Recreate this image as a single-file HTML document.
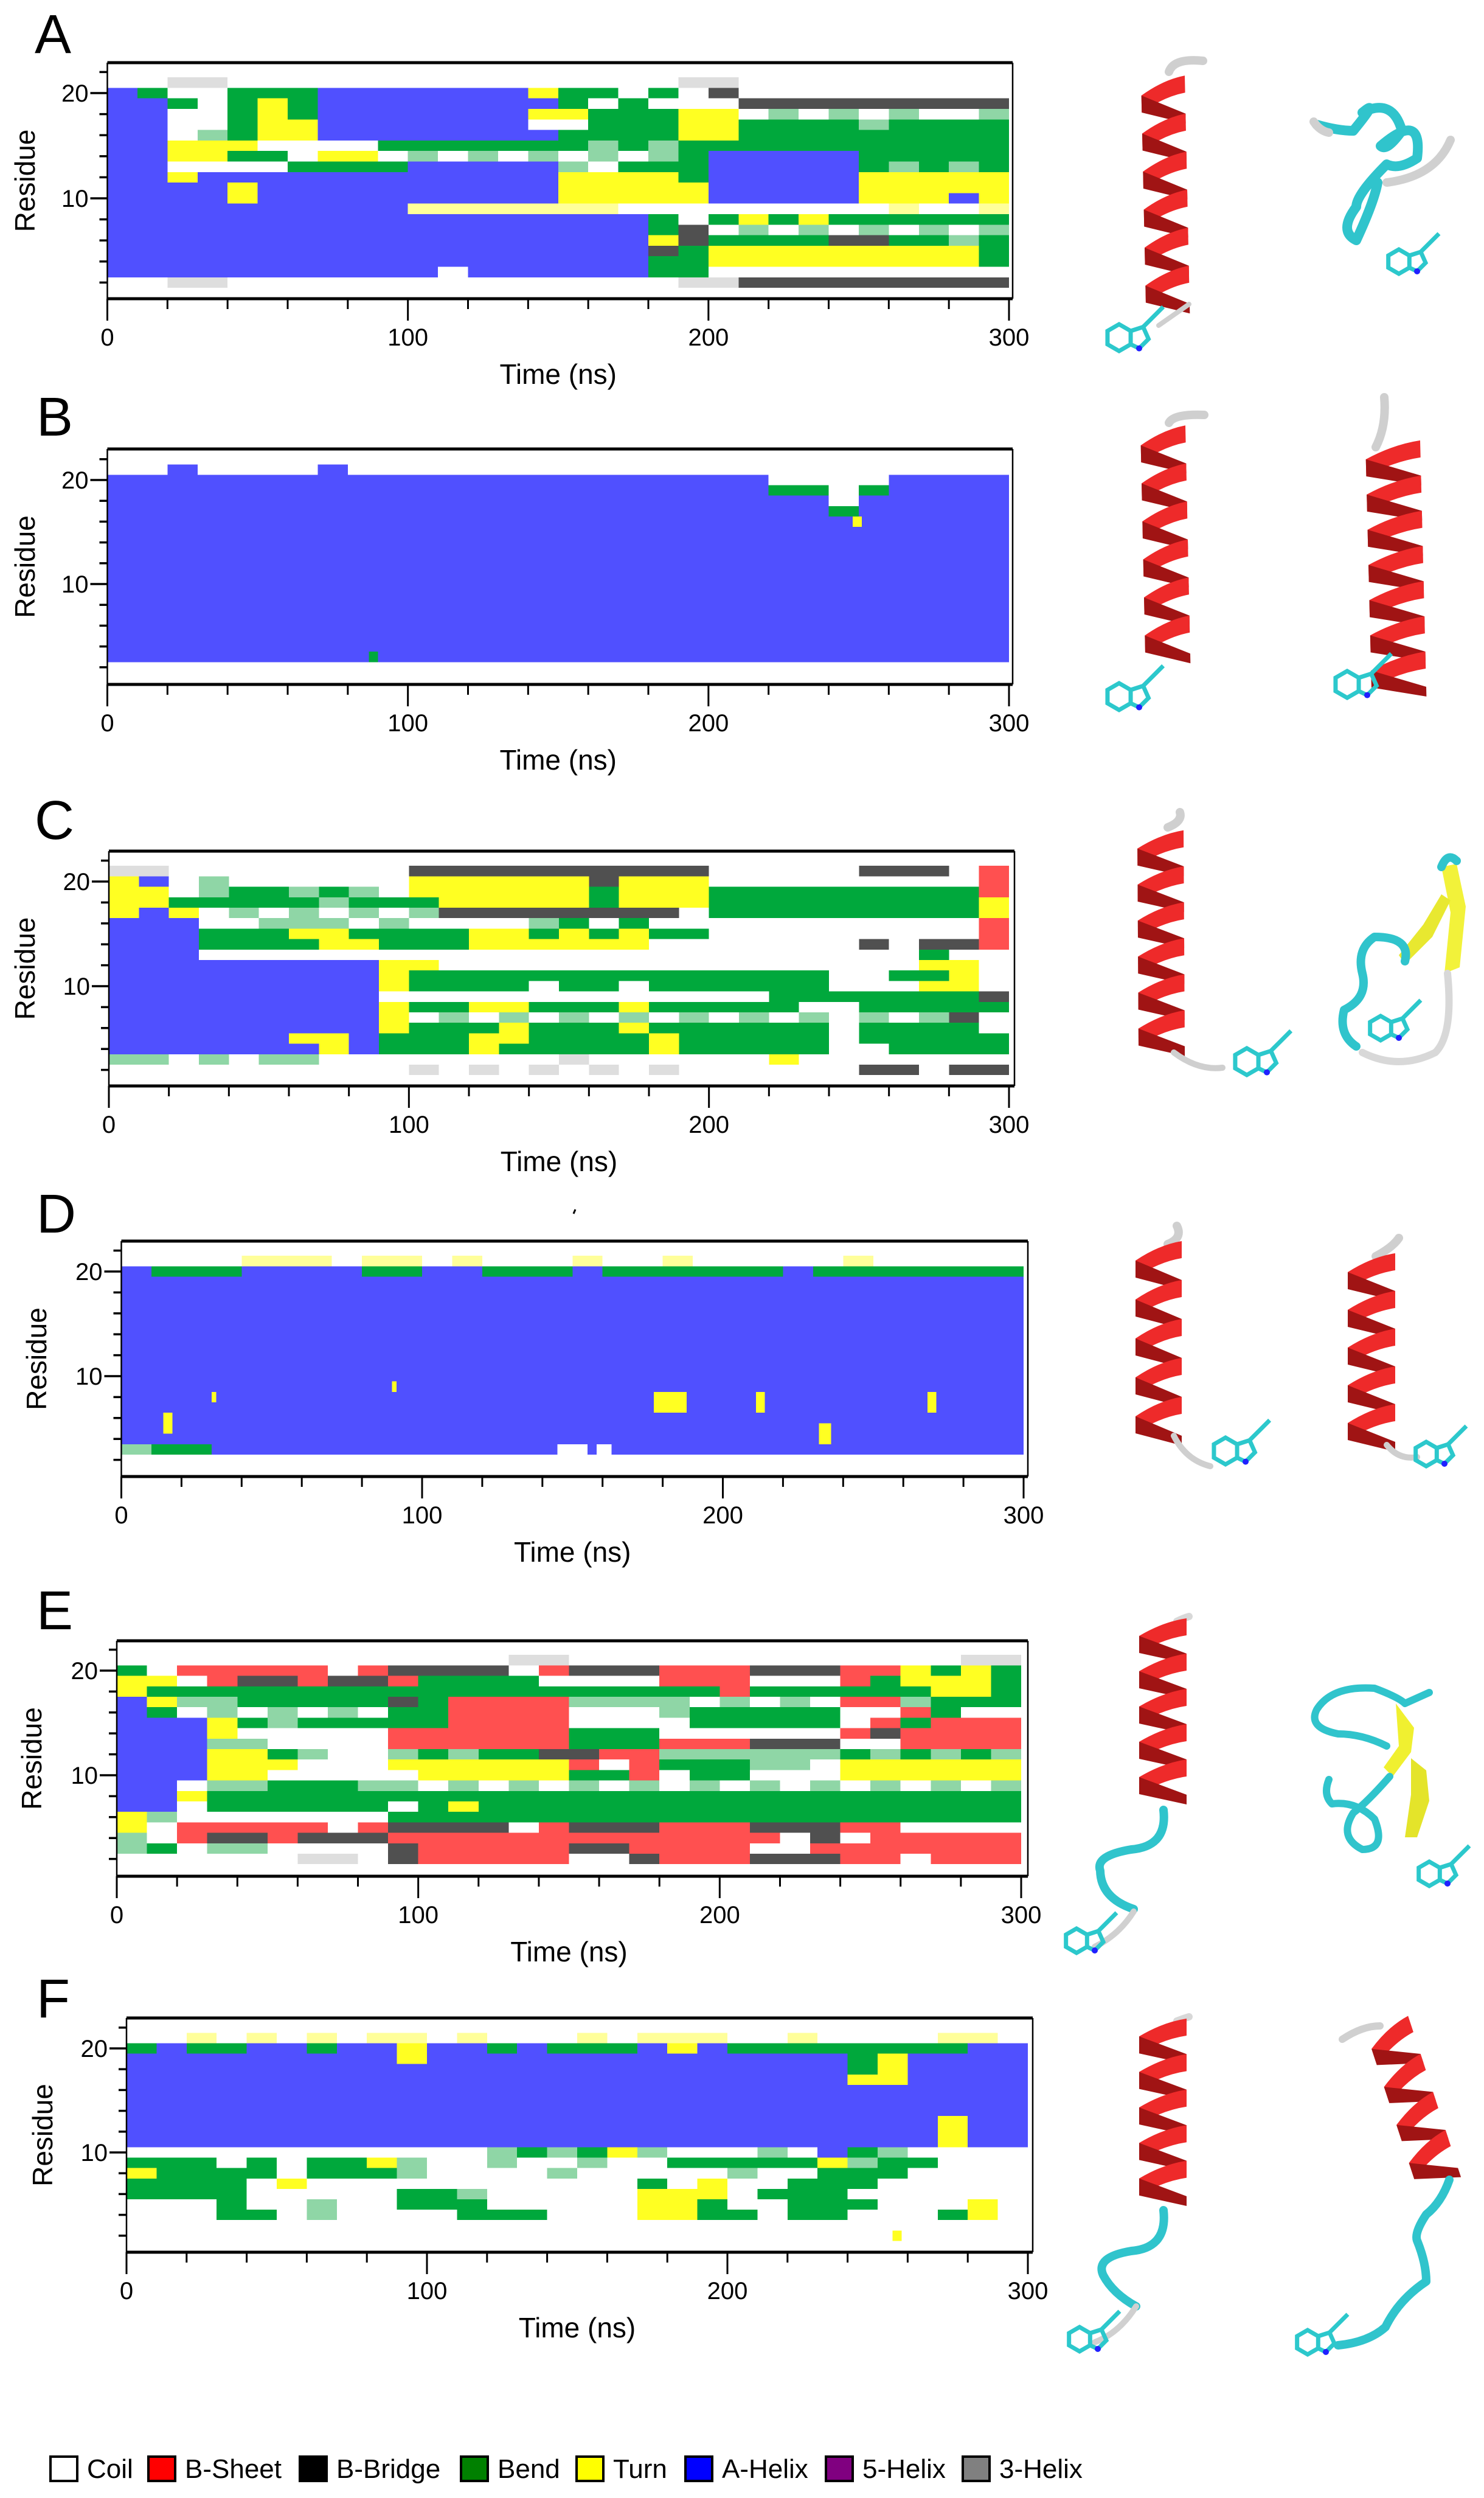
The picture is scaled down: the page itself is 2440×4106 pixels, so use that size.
<!DOCTYPE html>
<html><head><meta charset="utf-8"><title>DSSP secondary structure timelines</title>
<style>
html,body{margin:0;padding:0;background:#fff;}
svg{display:block;font-family:"Liberation Sans",sans-serif;}
</style></head>
<body>
<svg id="fig" xmlns="http://www.w3.org/2000/svg" width="2440" height="4106" viewBox="0 0 2440 4106">
<rect x="0" y="0" width="2440" height="4106" fill="#fff"/>
<g id="plots"></g>
<g id="mols"></g>
<g id="legend"></g>
</svg>
<script>
// ---------------- DATA ----------------
const residues = [21,20,19,18,17,16,15,14,13,12,11,10,9,8,7,6,5,4,3,2];
const binWidthNs = 10;
const timeMajorTicks = [0,100,200,300];
const timeMinorTicks = [20,40,60,80,120,140,160,180,220,240,260,280];
const residueTicks = [2,4,6,8,12,14,16,18,22];
const residueLabelTicks = [10,20];
const stateCodes = ['.','E','B','S','T','H','I','G','g','y','k'];
const stateColors = ['none','#ff5050','#000000','#00a83c','#ffff22','#5050ff','#900090','#505050','#8fd6a6','#ffff9a','#dedede'];
const legendLabels = ['Coil','B-Sheet','B-Bridge','Bend','Turn','A-Helix','5-Helix','3-Helix'];
const legendColors = ['#ffffff','#ff0000','#000000','#008000','#ffff00','#0000ff','#800080','#808080'];

const rowsA = [
"..kk...............kk.........",
"HS..SSSHHHHHHHTSS.S.G.........",
"HHS.STSHHHHHHHHS.S...GGGGGGGGG",
"HH..STSHHHHHHHTTSSSTT.g.g.g..g",
"HH..STTHHHHHHH..SSSTTSSSSgSSSS",
"HH.gSTTHHHHHHHHSSSSTTSSSSSSSSS",
"HHTTT....SSSSSSSgSgSSSSSSSSSSS",
"HHTTSS.TT.g.g.g.g.gSHHHHHSSSSS",
"HH....SSSSHHHHHg.SSSHHHHHSgSgS",
"HHTHHHHHHHHHHHHTTTTSHHHHHTTTTT",
"HHHHTHHHHHHHHHHTTTTTHHHHHTTTTT",
"HHHHTHHHHHHHHHHTTTTTHHHHHTTTHT",
"HHHHHHHHHHyyyyyyy.........y..y",
"HHHHHHHHHHHHHHHHHHS.STSTSSSSSS",
"HHHHHHHHHHHHHHHHHHSG.g.g.g.g.g",
"HHHHHHHHHHHHHHHHHHTGSSSSGGSSgS",
"HHHHHHHHHHHHHHHHHHGSTTTTTTTTTS",
"HHHHHHHHHHHHHHHHHHSSTTTTTTTTTS",
"HHHHHHHHHHH.HHHHHHSS..........",
"..kk...............kkGGGGGGGGG"];
const rowsB = [
"..H....H......................",
"HHHHHHHHHHHHHHHHHHHHHH....HHHH",
"HHHHHHHHHHHHHHHHHHHHHHSS.SHHHH",
"HHHHHHHHHHHHHHHHHHHHHHHH.HHHHH",
"HHHHHHHHHHHHHHHHHHHHHHHHSHHHHH",
"HHHHHHHHHHHHHHHHHHHHHHHHHHHHHH",
"HHHHHHHHHHHHHHHHHHHHHHHHHHHHHH",
"HHHHHHHHHHHHHHHHHHHHHHHHHHHHHH",
"HHHHHHHHHHHHHHHHHHHHHHHHHHHHHH",
"HHHHHHHHHHHHHHHHHHHHHHHHHHHHHH",
"HHHHHHHHHHHHHHHHHHHHHHHHHHHHHH",
"HHHHHHHHHHHHHHHHHHHHHHHHHHHHHH",
"HHHHHHHHHHHHHHHHHHHHHHHHHHHHHH",
"HHHHHHHHHHHHHHHHHHHHHHHHHHHHHH",
"HHHHHHHHHHHHHHHHHHHHHHHHHHHHHH",
"HHHHHHHHHHHHHHHHHHHHHHHHHHHHHH",
"HHHHHHHHHHHHHHHHHHHHHHHHHHHHHH",
"HHHHHHHHHHHHHHHHHHHHHHHHHHHHHH",
"HHHHHHHHHHHHHHHHHHHHHHHHHHHHHH",
".............................."];
const rowsC = [
"kk........GGGGGGGGGG.....GGG.E",
"TH.g......TTTTTTGTTT.........E",
"TT.gSSgSg.TTTTTTSTTTSSSSSSSSSE",
"TTSSSSSgSSSTTTTTSTTTSSSSSSSSST",
"THT.g.g.g.gGGGGGGGG.SSSSSSSSST",
"HHH..ggg.g....gS.S...........E",
"HHHSSSTTSSSSTTSTSTSS.........E",
"HHHSSSSTTSSSTTTTTT.......G.GGE",
"HHH........................S..",
"HHHHHHHHHTT................TT.",
"HHHHHHHHHTSSSSSSSSSSSSSS..SST.",
"HHHHHHHHHTSSSS.SS.SSSSSS...TT.",
"HHHHHHHHH.............SSSSSSSG",
"HHHHHHHHHTSSTTSSSTSSSSS..SSSSS",
"HHHHHHHHHT.g.g.g.g.g.g.g.g.gG.",
"HHHHHHHHHTSSSTSSSTSSSSSS.SSSS.",
"HHHHHHTTHSSSTTSSSSTSSSSS.SSSSS",
"HHHHHHHTHSSSTSSSSSTSSSSS..SSSS",
"gg.g.gg........k......T.......",
"..........k.k.k.k.k......GG.GG"];
const rowsD = [
"....yyy.yy.y...y..y.....y.....",
"HSSSHHHHSSHHSSSHSSSSSSHSSSSSSS",
"HHHHHHHHHHHHHHHHHHHHHHHHHHHHHH",
"HHHHHHHHHHHHHHHHHHHHHHHHHHHHHH",
"HHHHHHHHHHHHHHHHHHHHHHHHHHHHHH",
"HHHHHHHHHHHHHHHHHHHHHHHHHHHHHH",
"HHHHHHHHHHHHHHHHHHHHHHHHHHHHHH",
"HHHHHHHHHHHHHHHHHHHHHHHHHHHHHH",
"HHHHHHHHHHHHHHHHHHHHHHHHHHHHHH",
"HHHHHHHHHHHHHHHHHHHHHHHHHHHHHH",
"HHHHHHHHHHHHHHHHHHHHHHHHHHHHHH",
"HHHHHHHHHHHHHHHHHHHHHHHHHHHHHH",
"HHHHHHHHHHHHHHHHHHHHHHHHHHHHHH",
"HHHHHHHHHHHHHHHHHHHHHHHHHHHHHH",
"HHHHHHHHHHHHHHHHHHHHHHHHHHHHHH",
"HHHHHHHHHHHHHHHHHHHHHHHHHHHHHH",
"HHHHHHHHHHHHHHHHHHHHHHHHHHHHHH",
"HHHHHHHHHHHHHHHHHHHHHHHHHHHHHH",
"gSSHHHHHHHHHHHHHHHHHHHHHHHHHHH",
".............................."];
const rowsE = [
".............kk.............kk",
"S.EEEEE.EGGGG.EGGGEEEGGGEETSTS",
"TT.EGGEGGESSSS....EEE...ESTTTS",
"TSSSSSSSSSSSSSSSSSSSESSSSSSTTS",
"HTggSSSSSGSEEEEgggg.g.g.EEgSSS",
"HS.g.g.g.SSEEEE...gSSSSS..ES..",
"HHHTSgSSSSSEEEE....SSSSS.ESEEE",
"HHHT.....EEEEEESSS......EGEEEE",
"HHHgg....EEEEEESSSEEEGGG..EEEE",
"HHHTTSg..gSgSSGGEEggggggSgSgSg",
"HHHTTT...TTTTTTE.ESSSgg.TTTTTT",
"HHHTT.....TTTTTSSE.SS...TTTTTT",
"HH.ggSSSgg.g.g.g.g.g.g.g.g.g.g",
"HHTSSSSSSSSSSSSSSSSSSSSSSSSSSS",
"HH.SSSSSS.STSSSSSSSSSSSSSSSSSS",
"Tg.......SSSSSSSSSSSSSSSSSSSSS",
"T.EEEEE.EGGGG.EGGGEEEGGGEE....",
"g.EGGEGGGEEEEEEEEEEEEE.G.EEEEE",
"gS.gg....GEEEEEGGEEEE..EEEEEEE",
"......kk.GEEEEE..GEEEGGGEE.EEE"];
const rowsF = [
"..y.y.y.yy.y...y.yyy..y....yy.",
"SHSSHHSHHTHHSHSSSHTHSSSSSSSSHH",
"HHHHHHHHHTHHHHHHHHHHHHHHSTHHHH",
"HHHHHHHHHHHHHHHHHHHHHHHHSTHHHH",
"HHHHHHHHHHHHHHHHHHHHHHHHTTHHHH",
"HHHHHHHHHHHHHHHHHHHHHHHHHHHHHH",
"HHHHHHHHHHHHHHHHHHHHHHHHHHHHHH",
"HHHHHHHHHHHHHHHHHHHHHHHHHHHHHH",
"HHHHHHHHHHHHHHHHHHHHHHHHHHHTHH",
"HHHHHHHHHHHHHHHHHHHHHHHHHHHTHH",
"HHHHHHHHHHHHHHHHHHHHHHHHHHHTHH",
"............gSgSTg...g.HSg....",
"SSS.S.SSTg..g..g..SSSSSTgSS...",
"TSSSS.SSSg....g.....g..SSS....",
"SSSS.T...........S.T..SSS.....",
"SSSS.....SSg.....TTT.SSS......",
"...S..g..SSS.....TTS..SSS...T.",
"...SS.g....SSS...TTSS.SS...ST.",
"..............................",
".............................."];
// fine-grained events: [panel, residue, startNs, endNs, code]
const spotPanel = ['B','B','D','D','D','D','D','D','D','D','D','D','D','D','D','D','F'];
const spotResidue = [3,16,8,7,8,7,8,7,5,4,5,6,8,9,3,3,2];
const spotStart = [87,248,177,177,211,211,268,268,232,232,14,14,30,90,145,158,255];
const spotEnd = [90,251,188,188,214,214,271,271,236,236,17,17,31.5,91.5,155,163,258];
const spotCode = ['S','T','T','T','T','T','T','T','T','T','T','T','T','T','.','.','T'];

// ---------------- LAYOUT (pixels) ----------------
const layout = {
 A:{rows:rowsA,x0:176.5,x300:1659,right:1665,top:103,bottom:491,y20:153,y10:326,ylab:41,lx:57,ltop:21},
 B:{rows:rowsB,x0:176.5,x300:1659,right:1665,top:738,bottom:1125,y20:789,y10:960,ylab:41,lx:60,ltop:650},
 C:{rows:rowsC,x0:179,x300:1659,right:1668,top:1399,bottom:1785,y20:1449,y10:1621,ylab:41,lx:57,ltop:1313},
 D:{rows:rowsD,x0:199.5,x300:1683,right:1690,top:2040,bottom:2427,y20:2090,y10:2262,ylab:60,lx:60,ltop:1960},
 E:{rows:rowsE,x0:192,x300:1679,right:1690,top:2697,bottom:3084,y20:2746,y10:2918,ylab:52,lx:60,ltop:2612},
 F:{rows:rowsF,x0:208,x300:1690,right:1698,top:3317,bottom:3702,y20:3367,y10:3538,ylab:70,lx:60,ltop:3250}
};
const NS='http://www.w3.org/2000/svg';
function mk(tag, attrs, parent){ const e=document.createElementNS(NS,tag); for(const k in attrs) e.setAttribute(k,attrs[k]); if(parent) parent.appendChild(e); return e; }
function xScale(p,t){ return p.x0 + t/300*(p.x300-p.x0); }
function yScale(p,r){ return p.y20 + (20-r)*(p.y10-p.y20)/10; }
function colorOf(c){ const i=stateCodes.indexOf(c); return i<0?'none':stateColors[i]; }

const plots=document.getElementById('plots');
for(const key of Object.keys(layout)){
 const p=layout[key];
 const g=mk('g',{},plots);
 
 
 const lbl=mk('text',{x:p.lx,y:p.ltop+66,'font-size':90,fill:'#000'},g);
 lbl.textContent=key;
 
 
 const cells=mk('g',{'shape-rendering':'crispEdges'},g);
 
 
 p.rows.forEach((row,ri)=>{
  const r=residues[ri];
  let i=0;
  while(i<row.length){
   let j=i; while(j<row.length && row[j]===row[i]) j++;
   const col=colorOf(row[i]);
   if(col!=='none'){
    const x1=xScale(p,i*binWidthNs), x2=xScale(p,j*binWidthNs);
    const y1=yScale(p,r+0.5), y2=yScale(p,r-0.5);
    const rc=mk('rect',{x:x1,y:y1,width:x2-x1,height:y2-y1,fill:col},cells);
    
    
   }
   i=j;
  }
 });
 spotPanel.forEach((pk,si)=>{
  if(pk!==key) return;
  const r=spotResidue[si];
  const x1=xScale(p,spotStart[si]), x2=xScale(p,spotEnd[si]);
  const col=spotCode[si]==='.'?'#ffffff':colorOf(spotCode[si]);
  const rc=mk('rect',{x:x1,y:yScale(p,r+0.5),width:x2-x1,height:yScale(p,r-0.5)-yScale(p,r+0.5),fill:col},cells);
  
  
 });
 // frame
 const fr=mk('g',{stroke:'#000',fill:'none'},g);
 
 
 mk('line',{x1:p.x0,y1:p.top,x2:p.right,y2:p.top,'stroke-width':5},fr);
 mk('line',{x1:p.x0,y1:p.bottom,x2:p.right,y2:p.bottom,'stroke-width':5},fr);
 mk('line',{x1:p.x0,y1:p.top,x2:p.x0,y2:p.bottom,'stroke-width':2.5},fr);
 mk('line',{x1:p.right,y1:p.top,x2:p.right,y2:p.bottom,'stroke-width':2.5},fr);
 // x axis
 const xa=mk('g',{},g);
 
 
 timeMajorTicks.forEach(t=>{
  const x=xScale(p,t);
  mk('line',{x1:x,y1:p.bottom,x2:x,y2:p.bottom+36,stroke:'#000','stroke-width':3},xa);
  const tl=mk('text',{x:x,y:p.bottom+77,'font-size':40,'text-anchor':'middle',fill:'#000'},xa);
  tl.textContent=String(t);
  
  
 });
 timeMinorTicks.forEach(t=>{
  const x=xScale(p,t);
  mk('line',{x1:x,y1:p.bottom,x2:x,y2:p.bottom+17,stroke:'#000','stroke-width':3},xa);
 });
 const xt=mk('text',{x:(p.x0+p.x300)/2,y:p.bottom+140,'font-size':46,'text-anchor':'middle',fill:'#000'},xa);
 xt.textContent='Time (ns)';
 
 
 // y axis
 const ya=mk('g',{},g);
 
 
 residueTicks.forEach(r=>{
  const y=yScale(p,r);
  mk('line',{x1:p.x0-13,y1:y,x2:p.x0,y2:y,stroke:'#000','stroke-width':3.5},ya);
 });
 residueLabelTicks.forEach(r=>{
  const y=yScale(p,r);
  mk('line',{x1:p.x0-28,y1:y,x2:p.x0,y2:y,stroke:'#000','stroke-width':3.5},ya);
  const tl=mk('text',{x:p.x0-31,y:y+14,'font-size':40,'text-anchor':'end',fill:'#000'},ya);
  tl.textContent=String(r);
  
  
 });
 const ym=(p.top+p.bottom)/2;
 const yt=mk('text',{x:p.ylab,y:ym,'font-size':46,'text-anchor':'middle',fill:'#000','dominant-baseline':'central',transform:'rotate(-90 '+p.ylab+' '+ym+')'},ya);
 yt.textContent='Residue';
 
 
}
// stray mark in panel D
const stray=mk('path',{d:'M946 1988 l-3 7',stroke:'#000','stroke-width':3},plots);



// ---------------- MOLECULES ----------------
const mols=document.getElementById('mols');
function helix(name,x1,y1,x2,y2,w){
 const g=mk('g',{},mols);
 
 
 const len=Math.hypot(x2-x1,y2-y1), n=Math.max(3,Math.round(len/62));
 const ux=(x2-x1)/len, uy=(y2-y1)/len, px=-uy, py=ux;
 const step=len/n;
 for(let k=0;k<n;k++){
  const ax=x1+ux*k*step, ay=y1+uy*k*step;
  const L=[ax-px*w/2, ay-py*w/2], R=[ax+px*w/2+ux*step/2, ay+py*w/2+uy*step/2];
  const L2=[ax-px*w/2+ux*step, ay-py*w/2+uy*step];
  mk('path',{d:`M${L[0]} ${L[1]} Q${ax+ux*step*0.1} ${ay+uy*step*0.1} ${R[0]} ${R[1]} L${R[0]+ux*28} ${R[1]+uy*28} Q${ax+ux*(step*0.1+28)} ${ay+uy*(step*0.1+28)} ${L[0]+ux*28} ${L[1]+uy*28} Z`,fill:'#ee2a2a'},g);
  mk('path',{d:`M${R[0]} ${R[1]} L${R[0]+ux*28} ${R[1]+uy*28} L${L2[0]+ux*16} ${L2[1]+uy*16} L${L2[0]} ${L2[1]} Z`,fill:'#a01414'},g);
 }
 return g;
}
function tube(name,d,color,w){
 const e=mk('path',{d:d,stroke:color,'stroke-width':w,fill:'none','stroke-linecap':'round','stroke-linejoin':'round'},mols);
 
 
}
function trp(name,cx,cy,s){
 const g=mk('g',{stroke:'#2cc8cc','stroke-width':7,fill:'none'},mols);
 
 
 let d='';
 for(let k=0;k<6;k++){const a=Math.PI/3*k+Math.PI/6; d+=(k?'L':'M')+(cx+s*Math.cos(a))+' '+(cy+s*Math.sin(a));}
 mk('path',{d:d+'Z'},g);
 mk('path',{d:`M${cx+s*0.87} ${cy-s*0.5} L${cx+s*1.8} ${cy-s*0.8} L${cx+s*2.2} ${cy+s*0.1} L${cx+s*1.5} ${cy+s*0.8} L${cx+s*0.87} ${cy+s*0.5}`},g);
 mk('circle',{cx:cx+s*1.5,cy:cy+s*0.8,r:5,fill:'#2020ff',stroke:'none'},g);
 mk('path',{d:`M${cx+s*1.8} ${cy-s*0.8} l${s*0.9} ${-s*0.9} l${s*0.6} ${-s*0.6}`},g);
}
// A
tube('a-left-cap','M1922 118 Q1930 95 1978 100','#cfcfcf',14);
helix('a-left-helix',1912,125,1920,500,72);
tube('a-left-link','M1955 500 L1905 535','#cfcfcf',8);
trp('a-left-trp',1840,555,22);
tube('a-right-loop','M2165 205 Q2200 215 2225 215 Q2270 160 2240 185 Q2290 160 2305 215 Q2280 250 2270 240 Q2340 180 2330 260 Q2300 280 2280 270 Q2230 320 2230 340 Q2200 380 2230 395 Q2260 330 2265 300','#30c4cc',16);
tube('a-right-tail','M2280 300 Q2360 290 2385 230','#d0d0d0',14);
tube('a-right-cap','M2160 200 Q2170 215 2185 218','#d0d0d0',14);
trp('a-right-trp',2300,430,20);
// B
tube('b-left-cap','M1922 695 Q1930 680 1980 682','#cfcfcf',14);
helix('b-left-helix',1912,700,1920,1075,74);
trp('b-left-trp',1840,1145,22);
tube('b-right-cap','M2262 735 Q2280 700 2276 653','#cfcfcf',14);
helix('b-right-helix',2290,725,2300,1130,90);
trp('b-right-trp',2215,1125,22);
// C
tube('c-left-cap','M1920 1360 Q1945 1350 1940 1335','#cfcfcf',14);
helix('c-left-helix',1908,1365,1910,1720,76);
tube('c-left-link','M1930 1730 Q1970 1760 2010 1755','#cfcfcf',10);
trp('c-left-trp',2050,1745,22);
mk('path',{d:'M2370 1425 L2395 1420 L2410 1490 L2400 1590 L2375 1600 L2385 1500 Z',fill:'#f2f23a',},mols);
mk('path',{d:'M2300 1570 L2340 1520 L2370 1470 L2385 1480 L2355 1540 L2310 1585 Z',fill:'#e8e830',},mols);
tube('c-right-turn','M2370 1425 Q2380 1400 2395 1415','#30c4cc',14);
tube('c-right-loop','M2310 1580 Q2320 1540 2260 1540 Q2230 1560 2240 1600 Q2250 1640 2210 1660 Q2200 1700 2230 1720','#30c4cc',14);
tube('c-right-tail','M2380 1600 Q2390 1700 2360 1730 Q2300 1760 2240 1730','#d8d8d8',12);
trp('c-right-trp',2270,1690,20);
// D
tube('d-left-cap','M1920 2045 Q1945 2035 1935 2015','#cfcfcf',14);
helix('d-left-helix',1905,2040,1905,2360,76);
tube('d-left-link','M1930 2360 Q1950 2400 1990 2410','#cfcfcf',10);
trp('d-left-trp',2015,2385,22);
tube('d-right-cap','M2262 2065 Q2290 2050 2300 2035','#cfcfcf',14);
helix('d-right-helix',2255,2060,2255,2370,78);
tube('d-right-link','M2280 2375 Q2300 2400 2330 2395','#cfcfcf',10);
trp('d-right-trp',2345,2390,20);
// E
tube('e-left-cap','M1935 2665 Q1945 2660 1955 2657','#d8d8d8',12);
helix('e-left-helix',1912,2660,1912,2950,78);
tube('e-left-tail','M1913 2975 Q1920 3035 1860 3040 Q1800 3050 1809 3075 Q1810 3120 1864 3138','#30c4cc',14);
tube('e-left-tail2','M1864 3142 Q1840 3180 1800 3200','#d0d0d0',10);
trp('e-left-trp',1770,3190,20);
tube('e-right-loop','M2280 2870 Q2240 2850 2200 2850 Q2150 2840 2165 2810 Q2190 2770 2260 2775 Q2300 2790 2310 2800 L2350 2782','#30c4cc',12);
mk('path',{d:'M2295 2800 L2325 2840 L2320 2880 L2290 2920 L2275 2905 L2300 2870 Z',fill:'#f0f030',},mols);
mk('path',{d:'M2320 2890 L2345 2910 L2350 2960 L2330 3020 L2310 3020 L2320 2950 Z',fill:'#e4e42a',},mols);
tube('e-right-coil','M2285 2920 Q2250 2960 2225 2980 Q2200 3020 2240 3040 Q2280 3040 2260 2990 Q2230 2960 2190 2965 Q2175 2950 2185 2925','#30c4cc',12);
trp('e-right-trp',2350,3080,20);
// F
tube('f-left-cap','M1935 3322 Q1945 3318 1955 3315','#d8d8d8',12);
helix('f-left-helix',1912,3318,1912,3610,78);
tube('f-left-tail','M1913 3633 Q1920 3695 1860 3700 Q1800 3710 1814 3740 Q1830 3770 1868 3791','#30c4cc',14);
tube('f-left-tail2','M1868 3791 Q1840 3835 1800 3850','#d0d0d0',10);
trp('f-left-trp',1775,3845,20);
tube('f-right-cap','M2207 3352 Q2240 3330 2269 3330','#d0d0d0',12);
helix('f-right-helix',2280,3325,2362,3575,74);
tube('f-right-tail','M2383 3583 Q2370 3620 2345 3640 Q2325 3670 2330 3683 Q2345 3720 2345 3750 Q2300 3780 2278 3825 Q2250 3850 2200 3855','#30c4cc',14);
trp('f-right-trp',2150,3850,20);

// ---------------- LEGEND ----------------
const legend=document.getElementById('legend');
const legendBoxX=[83,244,493,758,948,1127,1358,1583];
legendLabels.forEach((lab,i)=>{
 const g=mk('g',{},legend);
 
 
 mk('rect',{x:legendBoxX[i],y:4038,width:44,height:40,fill:legendColors[i],stroke:'#000','stroke-width':4},g);
 const t=mk('text',{x:legendBoxX[i]+60,y:4073,'font-size':44,fill:'#000'},g);
 t.textContent=lab;
});
</script>
</body></html>
